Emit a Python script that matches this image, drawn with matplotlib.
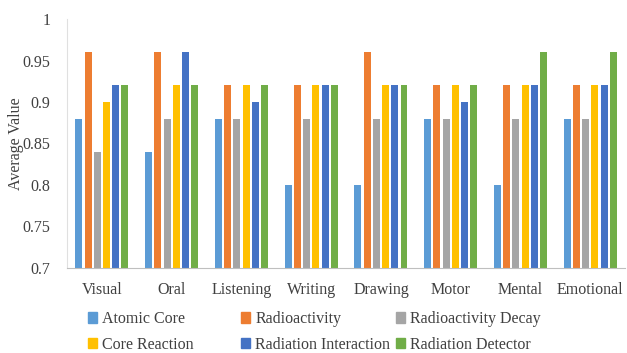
import numpy as np
import matplotlib.pyplot as plt
from matplotlib.patches import Patch

plt.rcParams['font.family'] = ['Liberation Serif', 'DejaVu Serif']

categories = ['Visual', 'Oral', 'Listening', 'Writing', 'Drawing', 'Motor', 'Mental', 'Emotional']
series_names = ['Atomic Core', 'Radioactivity', 'Radioactivity Decay',
                'Core Reaction', 'Radiation Interaction', 'Radiation Detector']
atomic_core = [0.88, 0.84, 0.88, 0.80, 0.80, 0.88, 0.80, 0.88]
radioactivity = [0.96, 0.96, 0.92, 0.92, 0.96, 0.92, 0.92, 0.92]
radioactivity_decay = [0.84, 0.88, 0.88, 0.88, 0.88, 0.88, 0.88, 0.88]
core_reaction = [0.90, 0.92, 0.92, 0.92, 0.92, 0.92, 0.92, 0.92]
radiation_interaction = [0.92, 0.96, 0.90, 0.92, 0.92, 0.90, 0.92, 0.92]
radiation_detector = [0.92, 0.92, 0.92, 0.92, 0.92, 0.92, 0.96, 0.96]
colors = ['#5B9BD5', '#ED7D31', '#A5A5A5', '#FFC000', '#4472C4', '#70AD47']

series = [atomic_core, radioactivity, radioactivity_decay,
          core_reaction, radiation_interaction, radiation_detector]

fig = plt.figure(figsize=(6.27, 3.53), dpi=100)
ax = fig.add_axes([0.107, 0.241, 0.89, 0.705])

x = np.arange(len(categories))
step = 0.132
width = 0.1
base = 0.7
for i, (vals, c) in enumerate(zip(series, colors)):
    off = (i - 2.5) * step
    ax.bar(x + off, np.array(vals) - base, width, bottom=base, color=c, label=series_names[i])

ax.set_xlim(-0.5, len(categories) - 0.5)
ax.set_ylim(0.7, 1.0)
ax.set_yticks([0.7, 0.75, 0.8, 0.85, 0.9, 0.95, 1.0])
ax.set_yticklabels(['0.7', '0.75', '0.8', '0.85', '0.9', '0.95', '1'])
ax.set_xticks(x)
ax.set_xticklabels(categories)
ax.tick_params(axis='both', length=0, labelsize=11.5, colors='#404040')
ax.tick_params(axis='x', pad=10)
ax.tick_params(axis='y', pad=12)
ax.set_ylabel('Average Value', fontsize=11.5, color='#404040')
ax.yaxis.set_label_coords(-0.078, 0.5)

for s in ['top', 'right']:
    ax.spines[s].set_visible(False)
ax.spines['left'].set_color('#E0E0E0')
ax.spines['bottom'].set_color('#BFBFBF')

# legend entries placed like the Excel layout: two rows, three entries each
leg_x = [0.140, 0.384, 0.631]
leg_y = [0.096, 0.024]
for i, name in enumerate(series_names):
    h = Patch(color=colors[i], label=name)
    lg = fig.legend(handles=[h], loc='center left',
                    bbox_to_anchor=(leg_x[i % 3], leg_y[i // 3]),
                    frameon=False, fontsize=11.5, handlelength=0.6, handleheight=0.6,
                    handletextpad=0.3, borderpad=0, borderaxespad=0,
                    labelcolor='#404040')

fig.savefig('out.png', dpi=100)
